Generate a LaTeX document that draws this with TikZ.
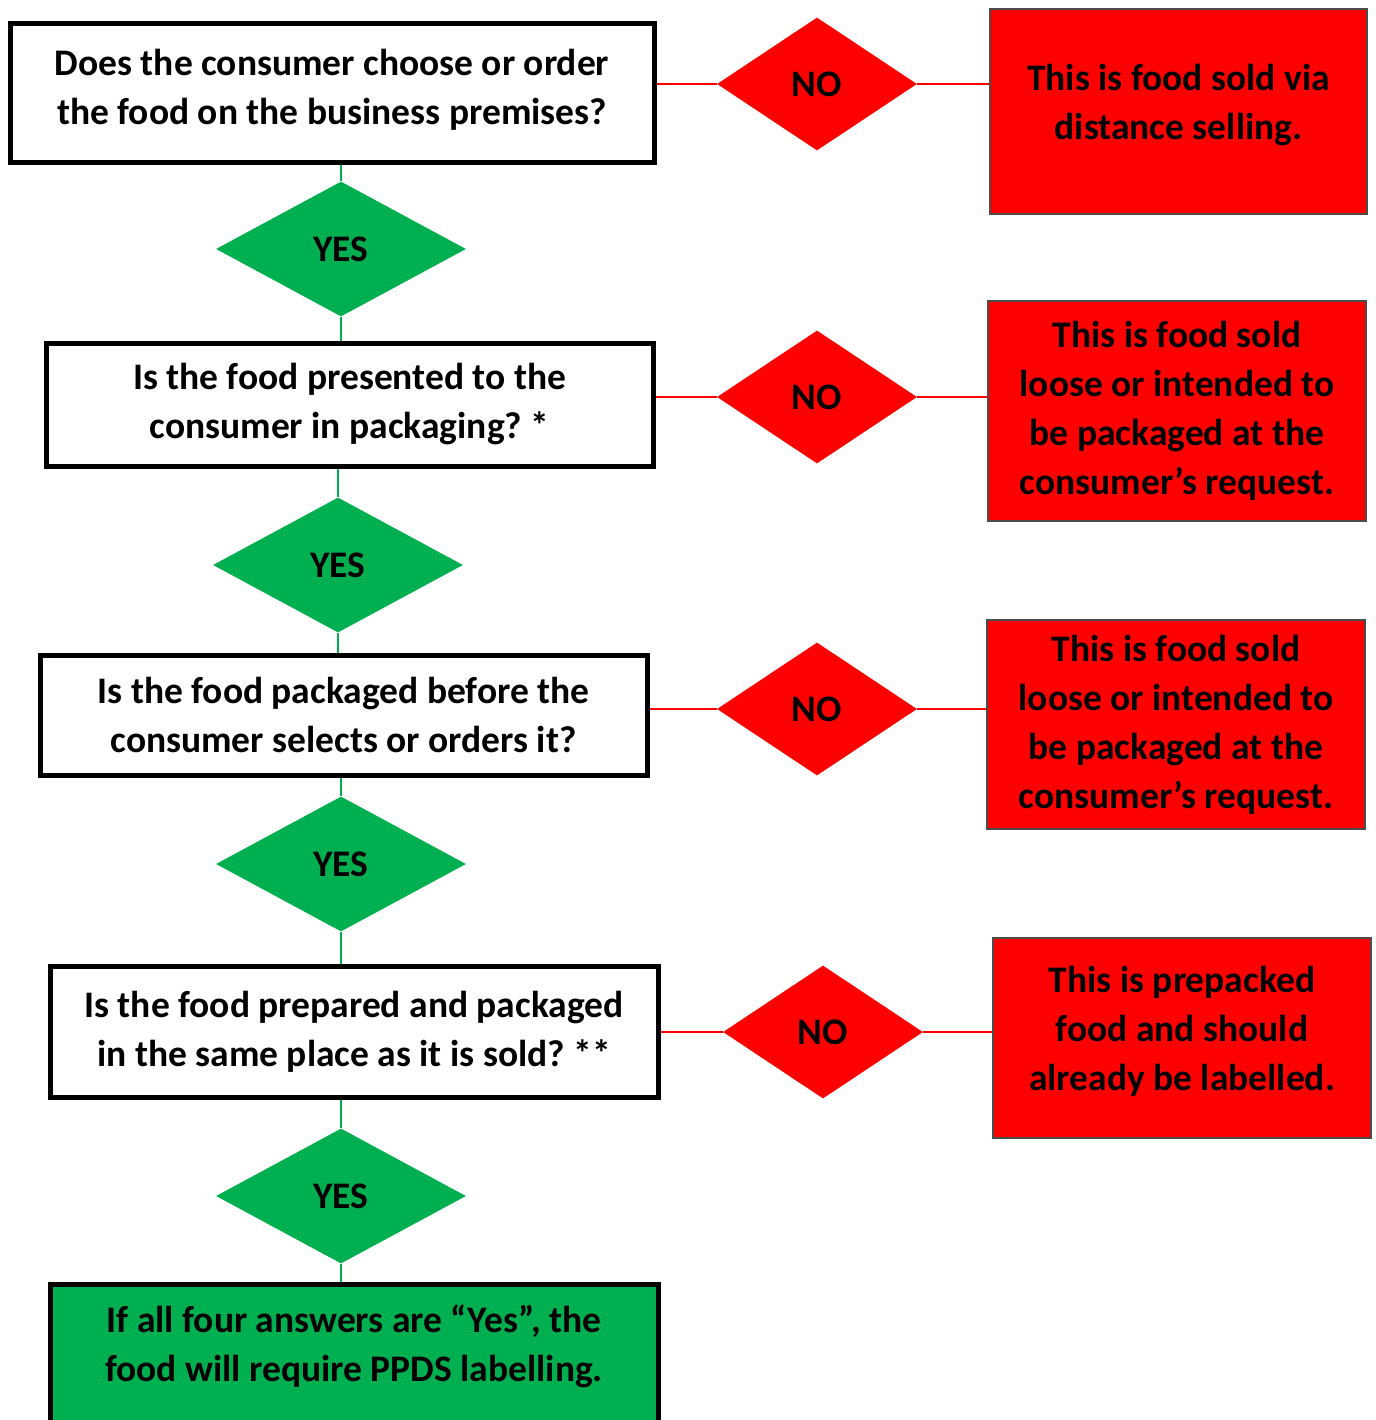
\documentclass[tikz,border=0pt]{standalone}
\usepackage{fontspec}
\setmainfont{Carlito}
\usetikzlibrary{shapes.geometric}
\definecolor{okgreen}{RGB}{0,176,80}
\definecolor{nored}{RGB}{255,0,0}

\begin{document}
\frenchspacing
\begin{tikzpicture}[x=1pt,y=-1pt,semithick,font=\bfseries\fontsize{37.5}{49}\selectfont]
\tikzstyle{question}=[draw=black,line width=5pt,fill=white,align=center,inner sep=0pt]
\tikzstyle{yes}=[diamond,fill=okgreen,minimum width=250pt,minimum height=135pt,inner sep=0pt]
\tikzstyle{no}=[diamond,fill=nored,minimum width=200pt,minimum height=133pt,inner sep=0pt]
\tikzstyle{outcome}=[draw=black!70,line width=1.5pt,fill=nored,align=center,inner sep=0pt]
\tikzstyle{ylink}=[draw=okgreen,line width=1.5pt]
\tikzstyle{nlink}=[draw=nored,line width=1.5pt]

\clip (0,0) rectangle (1375,1420);

\node[question,minimum width=644pt,minimum height=139pt,text depth=14pt] (q1) at (332,93.5)
  {Does the consumer choose or order\\the food on the business premises?};
\node[no] (no1) at (817,84) {NO};
\node[outcome,minimum width=377pt,minimum height=205pt,text depth=19pt] (r1) at (1178.5,111.5)
  {This is food sold via\\distance selling.};
\node[yes] (yes1) at (341,249) {YES};

\node[question,minimum width=607pt,minimum height=123pt] (q2) at (349.5,404.5)
  {Is the food presented to the\\consumer in packaging? *};
\node[no] (no2) at (817,397) {NO};
\node[outcome,minimum width=378pt,minimum height=220pt] (r2) at (1177,411)
  {This is food sold\\loose or intended to\\be packaged at the\\consumer’s request.};
\node[yes] (yes2) at (338,565) {YES};

\node[question,minimum width=607pt,minimum height=120pt] (q3) at (343.5,715)
  {Is the food packaged before the\\consumer selects or orders it?};
\node[no] (no3) at (817,709) {NO};
\node[outcome,minimum width=378pt,minimum height=209pt] (r3) at (1176,724.5)
  {This is food sold\\loose or intended to\\be packaged at the\\consumer’s request.};
\node[yes] (yes3) at (341,864) {YES};

\node[question,minimum width=608pt,minimum height=131pt] (q4) at (354,1031.5)
  {Is the food prepared and packaged\\in the same place as it is sold? **};
\node[no] (no4) at (823,1032) {NO};
\node[outcome,minimum width=378pt,minimum height=200pt,text depth=19pt] (r4) at (1182,1038)
  {This is prepacked\\food and should\\already be labelled.};
\node[yes] (yes4) at (341,1196) {YES};

\node[question,fill=okgreen,anchor=north,minimum width=608pt,inner ysep=20pt,text depth=170pt] (ppds) at (354,1282)
  {If all four answers are “Yes”, the\\food will require PPDS labelling.};

\path[nlink]
(q1.east |- no1) edge (no1)
(no1) edge (no1 -| r1.west)
(q2.east |- no2) edge (no2)
(no2) edge (no2 -| r2.west)
(q3.east |- no3) edge (no3)
(no3) edge (no3 -| r3.west)
(q4.east |- no4) edge (no4)
(no4) edge (no4 -| r4.west);

\path[ylink]
(yes1 |- q1.south) edge (yes1)
(yes1) edge (yes1 |- q2.north)
(yes2 |- q2.south) edge (yes2)
(yes2) edge (yes2 |- q3.north)
(yes3 |- q3.south) edge (yes3)
(yes3) edge (yes3 |- q4.north)
(yes4 |- q4.south) edge (yes4)
(yes4) edge (yes4 |- ppds.north);
\end{tikzpicture}
\end{document}
